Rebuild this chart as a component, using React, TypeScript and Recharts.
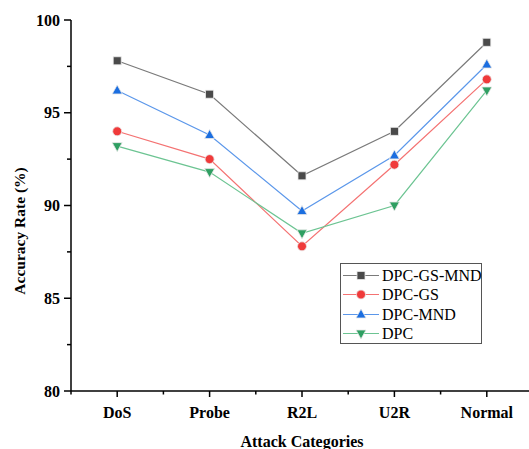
import { Line, LineChart, XAxis, YAxis } from 'recharts';

const categories = ['DoS', 'Probe', 'R2L', 'U2R', 'Normal'];
const dpcGsMnd = [97.8, 96.0, 91.6, 94.0, 98.8];
const dpcGs = [94.0, 92.5, 87.8, 92.2, 96.8];
const dpcMnd = [96.2, 93.8, 89.7, 92.7, 97.6];
const dpc = [93.2, 91.8, 88.5, 90.0, 96.2];
const yTicks = [80, 82.5, 85, 87.5, 90, 92.5, 95, 97.5, 100];
const xTicks = [0.5, 1, 1.5, 2, 2.5, 3, 3.5, 4, 4.5, 5, 5.5];

const FONT = '"Liberation Serif", "Times New Roman", serif';

const data = categories.map((name, i) => ({
  idx: i + 1,
  name,
  dpcGsMnd: dpcGsMnd[i],
  dpcGs: dpcGs[i],
  dpcMnd: dpcMnd[i],
  dpc: dpc[i]
}));

type Shape = 'square' | 'circle' | 'up' | 'down';

const series: { key: string; label: string; line: string; fill: string; shape: Shape }[] = [
  { key: 'dpcGsMnd', label: 'DPC-GS-MND', line: '#7a7a7a', fill: '#4a4a4a', shape: 'square' },
  { key: 'dpcGs', label: 'DPC-GS', line: '#f47272', fill: '#f03a3a', shape: 'circle' },
  { key: 'dpcMnd', label: 'DPC-MND', line: '#5b97ea', fill: '#1b6ee0', shape: 'up' },
  { key: 'dpc', label: 'DPC', line: '#6cc492', fill: '#2f9f62', shape: 'down' }
];

function Marker({ cx, cy, shape, fill }: { cx: number; cy: number; shape: Shape; fill: string }) {
  const edge = '#e8e8e8';
  if (shape === 'square') {
    return <rect x={cx - 4} y={cy - 4} width={8} height={8} fill={fill} stroke={edge} strokeWidth={0.8} />;
  }
  if (shape === 'circle') {
    return <circle cx={cx} cy={cy} r={4.5} fill={fill} stroke={edge} strokeWidth={0.8} />;
  }
  if (shape === 'up') {
    return <path d={`M${cx},${cy - 5.5} L${cx + 5},${cy + 3.5} L${cx - 5},${cy + 3.5} Z`} fill={fill} stroke={edge} strokeWidth={0.8} />;
  }
  return <path d={`M${cx},${cy + 5.5} L${cx + 5},${cy - 3.5} L${cx - 5},${cy - 3.5} Z`} fill={fill} stroke={edge} strokeWidth={0.8} />;
}

function YTick({ x, y, payload }: any) {
  const major = payload.value % 5 === 0;
  return (
    <g>
      <line x1={x} x2={x - (major ? 7 : 4)} y1={y} y2={y} stroke='#000' strokeWidth={1.5} />
      {major && (
        <text x={x - 11} y={y} dy='0.35em' textAnchor='end' fontFamily={FONT} fontWeight='bold' fontSize={16} fill='#000'>
          {payload.value}
        </text>
      )}
    </g>
  );
}

function XTick({ x, y, payload }: any) {
  const major = Number.isInteger(payload.value);
  return (
    <g>
      <line x1={x} x2={x} y1={y} y2={y + (major ? 6 : 3.5)} stroke='#000' strokeWidth={1.5} />
      {major && (
        <text x={x} y={y + 21} dy='0.35em' textAnchor='middle' fontFamily={FONT} fontWeight='bold' fontSize={16} fill='#000'>
          {categories[payload.value - 1]}
        </text>
      )}
    </g>
  );
}

function XTitle({ viewBox }: any) {
  const cx = viewBox.x + viewBox.width / 2;
  return (
    <text x={cx} y={441} dy='0.35em' textAnchor='middle' fontFamily={FONT} fontWeight='bold' fontSize={16} fill='#000'>
      Attack Categories
    </text>
  );
}

function YTitle() {
  return (
    <text x={20} y={231} dy='0.35em' textAnchor='middle' transform='rotate(-90 20 231)' fontFamily={FONT} fontWeight='bold' fontSize={15.5} fill='#000'>
      Accuracy Rate (%)
    </text>
  );
}

function LegendBox() {
  return (
    <div style={{ position: 'absolute', left: 340, top: 263, width: 140, height: 79, border: '1px solid #555', background: '#fff' }}>
      {series.map((s, i) => (
        <div key={s.key} style={{ position: 'absolute', left: 0, top: 2 + i * 19.3, height: 19, width: 140 }}>
          <svg width={40} height={19} style={{ position: 'absolute', left: 1, top: 0 }}>
            <line x1={1} x2={37} y1={9.5} y2={9.5} stroke={s.line} strokeWidth={1} />
            <Marker cx={19} cy={9.5} shape={s.shape} fill={s.fill} />
          </svg>
          <span style={{ position: 'absolute', left: 41, top: 0, lineHeight: '19px', fontFamily: FONT, fontSize: 16, color: '#000', whiteSpace: 'nowrap' }}>
            {s.label}
          </span>
        </div>
      ))}
    </div>
  );
}

export default function App() {
  return (
    <div style={{ position: 'absolute', left: 0, top: 0, width: 529, height: 449, overflow: 'hidden', background: '#fff' }}>
      <LineChart width={533} height={449} data={data} margin={{ top: 20, right: 0, bottom: 0, left: 0 }}>
        <XAxis
          dataKey='idx'
          type='number'
          domain={[0.5, 5.5]}
          ticks={xTicks}
          interval={0}
          height={58}
          tickSize={0}
          tickMargin={0}
          tickLine={false}
          axisLine={{ stroke: '#000', strokeWidth: 1.5 }}
          tick={<XTick />}
          label={<XTitle />}
        />
        <YAxis
          type='number'
          domain={[80, 100]}
          ticks={yTicks}
          interval={0}
          width={71}
          tickSize={0}
          tickMargin={0}
          tickLine={false}
          axisLine={{ stroke: '#000', strokeWidth: 1.5 }}
          tick={<YTick />}
          label={<YTitle />}
        />
        {series.map((s) => (
          <Line
            key={s.key}
            type='linear'
            dataKey={s.key}
            name={s.label}
            stroke={s.line}
            strokeWidth={1.2}
            isAnimationActive={false}
            dot={(p: any) => <Marker key={`${s.key}-${p.index}`} cx={p.cx} cy={p.cy} shape={s.shape} fill={s.fill} />}
            activeDot={false}
          />
        ))}
      </LineChart>
      <LegendBox />
    </div>
  );
}
